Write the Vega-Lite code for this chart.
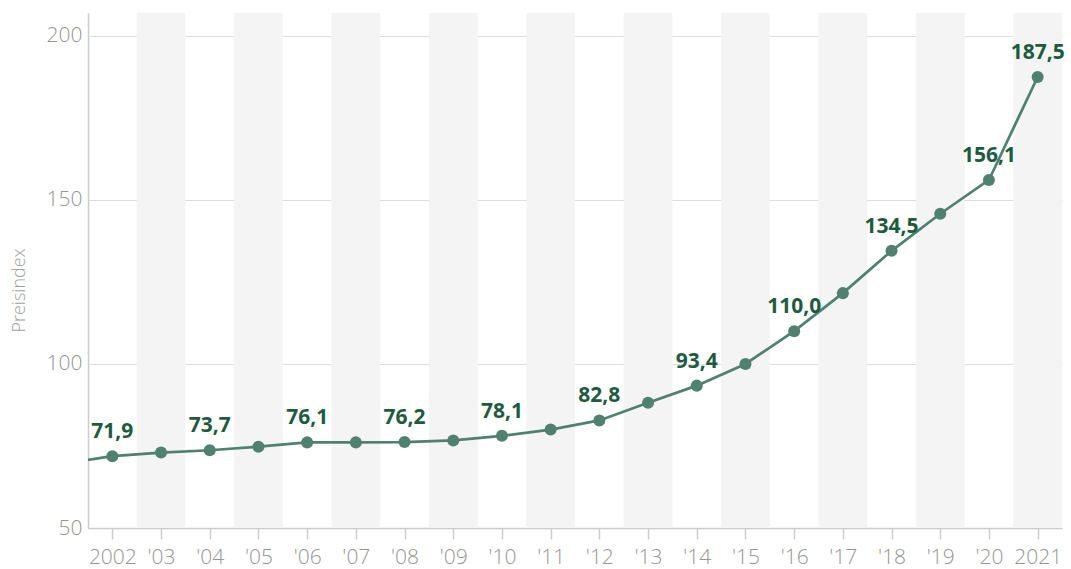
{
  "$schema": "https://vega.github.io/schema/vega-lite/v6.json",
  "width": 974,
  "height": 515,
  "autosize": {"type": "none"},
  "padding": {"left": 88, "top": 13, "right": 9, "bottom": 41},
  "background": "white",
  "config": {"view": {"stroke": null}, "font": "Open Sans"},
  "datasets": {
    "bands": [
      {"year": 2003}, {"year": 2005}, {"year": 2007}, {"year": 2009}, {"year": 2011},
      {"year": 2013}, {"year": 2015}, {"year": 2017}, {"year": 2019}, {"year": 2021}
    ],
    "index": [
      {"year": 2001, "value": 69.7, "label": ""},
      {"year": 2002, "value": 71.9, "label": "71,9"},
      {"year": 2003, "value": 73.0, "label": ""},
      {"year": 2004, "value": 73.7, "label": "73,7"},
      {"year": 2005, "value": 74.8, "label": ""},
      {"year": 2006, "value": 76.1, "label": "76,1"},
      {"year": 2007, "value": 76.1, "label": ""},
      {"year": 2008, "value": 76.2, "label": "76,2"},
      {"year": 2009, "value": 76.7, "label": ""},
      {"year": 2010, "value": 78.1, "label": "78,1"},
      {"year": 2011, "value": 80.0, "label": ""},
      {"year": 2012, "value": 82.8, "label": "82,8"},
      {"year": 2013, "value": 88.2, "label": ""},
      {"year": 2014, "value": 93.4, "label": "93,4"},
      {"year": 2015, "value": 100.0, "label": ""},
      {"year": 2016, "value": 110.0, "label": "110,0"},
      {"year": 2017, "value": 121.6, "label": ""},
      {"year": 2018, "value": 134.5, "label": "134,5"},
      {"year": 2019, "value": 145.8, "label": ""},
      {"year": 2020, "value": 156.1, "label": "156,1"},
      {"year": 2021, "value": 187.5, "label": "187,5"}
    ]
  },
  "layer": [
    {
      "data": {"name": "bands"},
      "transform": [
        {"calculate": "datum.year - 0.5", "as": "x0"},
        {"calculate": "datum.year + 0.5", "as": "x1"}
      ],
      "mark": {"type": "rect", "color": "#f4f4f4", "clip": true},
      "encoding": {
        "x": {"field": "x0", "type": "quantitative", "scale": {"domain": [2001.5, 2021.5], "nice": false, "zero": false},
          "axis": {
            "values": [2002,2003,2004,2005,2006,2007,2008,2009,2010,2011,2012,2013,2014,2015,2016,2017,2018,2019,2020,2021],
            "format": "d",
            "labelExpr": "datum.value == 2002 || datum.value == 2021 ? toString(datum.value) : \"'\" + slice(toString(datum.value), 2)",
            "title": null,
            "grid": false,
            "domainColor": "#cccccc",
            "domainWidth": 1.5,
            "tickColor": "#cccccc",
            "tickSize": 11,
            "tickWidth": 1.5,
            "labelColor": "#959595",
            "labelFontSize": 21,
            "labelFontWeight": 300,
            "labelPadding": 7,
            "labelFlush": false,
            "labelOverlap": false
          }},
        "x2": {"field": "x1"},
        "y": {"value": 0},
        "y2": {"value": 515}
      }
    },
    {
      "data": {"name": "index"},
      "mark": {"type": "line", "color": "#4e8170", "strokeWidth": 2.7, "clip": true},
      "encoding": {
        "x": {"field": "year", "type": "quantitative"},
        "y": {"field": "value", "type": "quantitative",
          "scale": {"domain": [50, 207], "nice": false, "zero": false},
          "axis": {
            "values": [50, 100, 150, 200],
            "title": "Preisindex",
            "titleColor": "#a0a0a0",
            "titleFontSize": 18,
            "titleFontWeight": 300,
            "titlePadding": 18,
            "titleY": 277,
            "titleAlign": "center",
            "grid": true,
            "gridColor": "#dddddd",
            "gridWidth": 1.2,
            "domainColor": "#cccccc",
            "domainWidth": 1.5,
            "ticks": false,
            "labelColor": "#959595",
            "labelFontSize": 21,
            "labelFontWeight": 300,
            "labelPadding": 6
          }}
      }
    },
    {
      "data": {"name": "index"},
      "transform": [{"filter": "datum.year >= 2002"}],
      "mark": {"type": "point", "filled": true, "opacity": 1, "color": "#4e8170", "size": 145},
      "encoding": {
        "x": {"field": "year", "type": "quantitative"},
        "y": {"field": "value", "type": "quantitative"}
      }
    },
    {
      "data": {"name": "index"},
      "transform": [{"filter": "datum.label != ''"}],
      "mark": {"type": "text", "color": "#1d5a3f", "fontSize": 21, "fontWeight": "bold", "dy": -24, "baseline": "middle"},
      "encoding": {
        "x": {"field": "year", "type": "quantitative"},
        "y": {"field": "value", "type": "quantitative"},
        "text": {"field": "label"}
      }
    }
  ]
}
